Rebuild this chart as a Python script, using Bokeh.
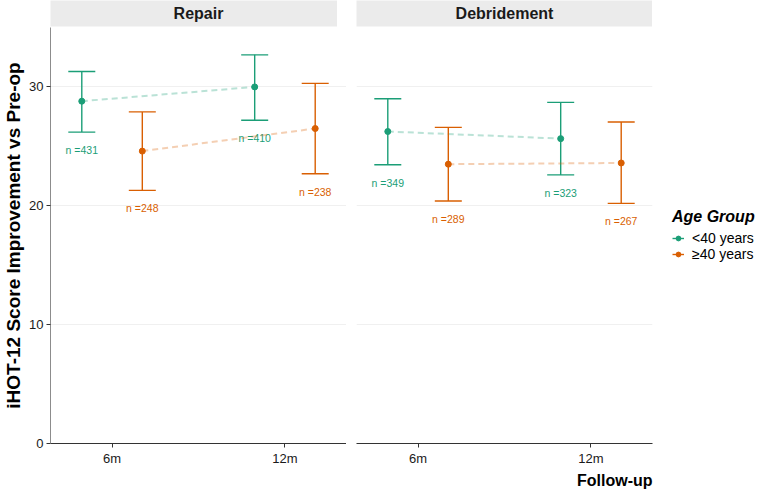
from bokeh.plotting import figure
from bokeh.layouts import row, column
from bokeh.models import (Range1d, FixedTicker, Title, Legend, LegendItem, Whisker,
                          TeeHead, ColumnDataSource)
from bokeh.core.properties import value
from bokeh.embed import file_html
from bokeh.resources import INLINE

# ---------------- data ----------------
procedures = ["Repair", "Debridement"]
timepoints = ["6m", "12m"]
groups = ["<40 years", "\u226540 years"]
colors = ["#1B9E77", "#D95F02"]

# Repair
repair_young_mean = [28.8, 30.0]
repair_young_low = [26.2, 27.2]
repair_young_high = [31.3, 32.7]
repair_young_n = [431, 410]
repair_old_mean = [24.6, 26.5]
repair_old_low = [21.3, 22.7]
repair_old_high = [27.9, 30.3]
repair_old_n = [248, 238]
# Debridement
debr_young_mean = [26.25, 25.65]
debr_young_low = [23.45, 22.6]
debr_young_high = [29.0, 28.7]
debr_young_n = [349, 323]
debr_old_mean = [23.5, 23.6]
debr_old_low = [20.4, 20.2]
debr_old_high = [26.6, 27.05]
debr_old_n = [289, 267]

y_ticks = [0, 10, 20, 30]

data = {
    "Repair": [
        (repair_young_mean, repair_young_low, repair_young_high, repair_young_n),
        (repair_old_mean, repair_old_low, repair_old_high, repair_old_n),
    ],
    "Debridement": [
        (debr_young_mean, debr_young_low, debr_young_high, debr_young_n),
        (debr_old_mean, debr_old_low, debr_old_high, debr_old_n),
    ],
}

FONT = "Liberation Sans"
DODGE = 0.175
LABEL_GAP = 1.5
X0, X1 = 0.644, 2.356
FRAME_W = 296
FRAME_H = 416
AXIS_W = 41
GAP = 10
LEGEND_W = 106

key_renderers = {}


def make_strip(name, first):
    s = figure(output_backend="svg", toolbar_location=None,
               frame_width=FRAME_W, frame_height=26,
               x_range=Range1d(0, 1), y_range=Range1d(0, 1),
               x_axis_type=None, y_axis_type=None,
               min_border_top=0, min_border_bottom=1,
               min_border_left=AXIS_W if first else GAP, min_border_right=0,
               background_fill_color="#EBEBEB", border_fill_color="white")
    s.outline_line_color = None
    s.grid.visible = False
    s.text(x=[0.5], y=[0.5], text=[name], text_align="center",
           text_baseline="middle", text_font=value(FONT),
           text_font_size="16px", text_font_style="bold", text_color="#1a1a1a")
    return s


def make_panel(name, first):
    p = figure(output_backend="svg", toolbar_location=None,
               frame_width=FRAME_W, frame_height=FRAME_H,
               x_range=Range1d(X0, X1), y_range=Range1d(0, 35),
               min_border_top=0, min_border_bottom=20,
               min_border_left=AXIS_W if first else GAP,
               min_border_right=0 if first else LEGEND_W,
               background_fill_color="white", border_fill_color="white")
    p.outline_line_color = None

    p.xgrid.grid_line_color = None
    p.ygrid.grid_line_color = "#F0F0F0"
    p.ygrid.grid_line_width = 1
    p.ygrid.ticker = FixedTicker(ticks=y_ticks)

    p.xaxis.ticker = FixedTicker(ticks=[1, 2])
    p.xaxis.major_label_overrides = {i + 1: t for i, t in enumerate(timepoints)}
    p.xaxis.axis_line_color = "#333333"
    p.xaxis.major_tick_line_color = "#333333"
    p.xaxis.major_tick_out = 4
    p.xaxis.major_tick_in = 0
    p.xaxis.minor_tick_line_color = None
    p.xaxis.major_label_text_font = FONT
    p.xaxis.major_label_text_font_size = "13px"
    p.xaxis.major_label_text_color = "#1a1a1a"
    p.xaxis.major_label_standoff = 3

    if first:
        p.yaxis.ticker = FixedTicker(ticks=y_ticks)
        p.yaxis.axis_label = "iHOT-12 Score Improvement vs Pre-op"
        p.yaxis.axis_label_text_font = FONT
        p.yaxis.axis_label_text_font_size = "19px"
        p.yaxis.axis_label_text_font_style = "bold"
        p.yaxis.axis_label_text_color = "black"
        p.yaxis.axis_label_standoff = 2
        p.yaxis.axis_line_color = "#8C8C8C"
        p.yaxis.major_tick_line_color = "#333333"
        p.yaxis.major_tick_out = 4
        p.yaxis.major_tick_in = 0
        p.yaxis.minor_tick_line_color = None
        p.yaxis.major_label_text_font = FONT
        p.yaxis.major_label_text_font_size = "13px"
        p.yaxis.major_label_text_color = "#1a1a1a"
        p.yaxis.major_label_standoff = 3
    else:
        p.yaxis.visible = False

    for gi, (mean, low, high, n) in enumerate(data[name]):
        c = colors[gi]
        off = -DODGE if gi == 0 else DODGE
        xs = [i + 1 + off for i in range(len(timepoints))]
        src = ColumnDataSource(dict(
            x=xs, y=mean, low=low, high=high,
            lab=["n =%d" % v for v in n],
            ly=[l - LABEL_GAP for l in low]))
        p.line("x", "y", source=src, line_color=c, line_alpha=0.3,
               line_width=2, line_dash="6 4")
        stem = p.segment(x0="x", y0="low", x1="x", y1="high", source=src,
                         line_color=c, line_width=1.4)
        w = Whisker(base="x", lower="low", upper="high", source=src,
                    dimension="height", line_alpha=0, line_width=1.4,
                    upper_head=TeeHead(size=27, line_color=c, line_width=1.4),
                    lower_head=TeeHead(size=27, line_color=c, line_width=1.4))
        p.add_layout(w)
        pts = p.scatter("x", "y", source=src, size=6, fill_color=c, line_color=c)
        p.text("x", "ly", text="lab", source=src, text_color=c,
               text_align="center", text_baseline="middle",
               text_font_size="10.5px", text_font=value(FONT))
        key_renderers[(name, gi)] = [stem, pts]
    return p


s1 = make_strip(procedures[0], True)
s2 = make_strip(procedures[1], False)
p1 = make_panel(procedures[0], True)
p2 = make_panel(procedures[1], False)

items = [LegendItem(label=g, renderers=key_renderers[(procedures[1], gi)])
         for gi, g in enumerate(groups)]
legend = Legend(items=items, title="Age Group", location="center_left",
                title_text_font=FONT, title_text_font_size="16px",
                title_text_font_style="bold italic", title_text_color="black",
                label_text_font=FONT, label_text_font_size="14px",
                label_text_color="black", border_line_color=None,
                background_fill_alpha=0, glyph_width=12, glyph_height=12,
                label_height=12, spacing=0, padding=4, margin=20,
                title_standoff=4, label_standoff=8)
p2.add_layout(legend, "right")

p2.add_layout(Title(text="Follow-up", align="right", text_font=FONT,
                    text_font_size="16px", text_font_style="bold",
                    text_color="black", standoff=2), "below")

layout = row(column(s1, p1), column(s2, p2))
open("out.html", "w").write(file_html(layout, INLINE))
